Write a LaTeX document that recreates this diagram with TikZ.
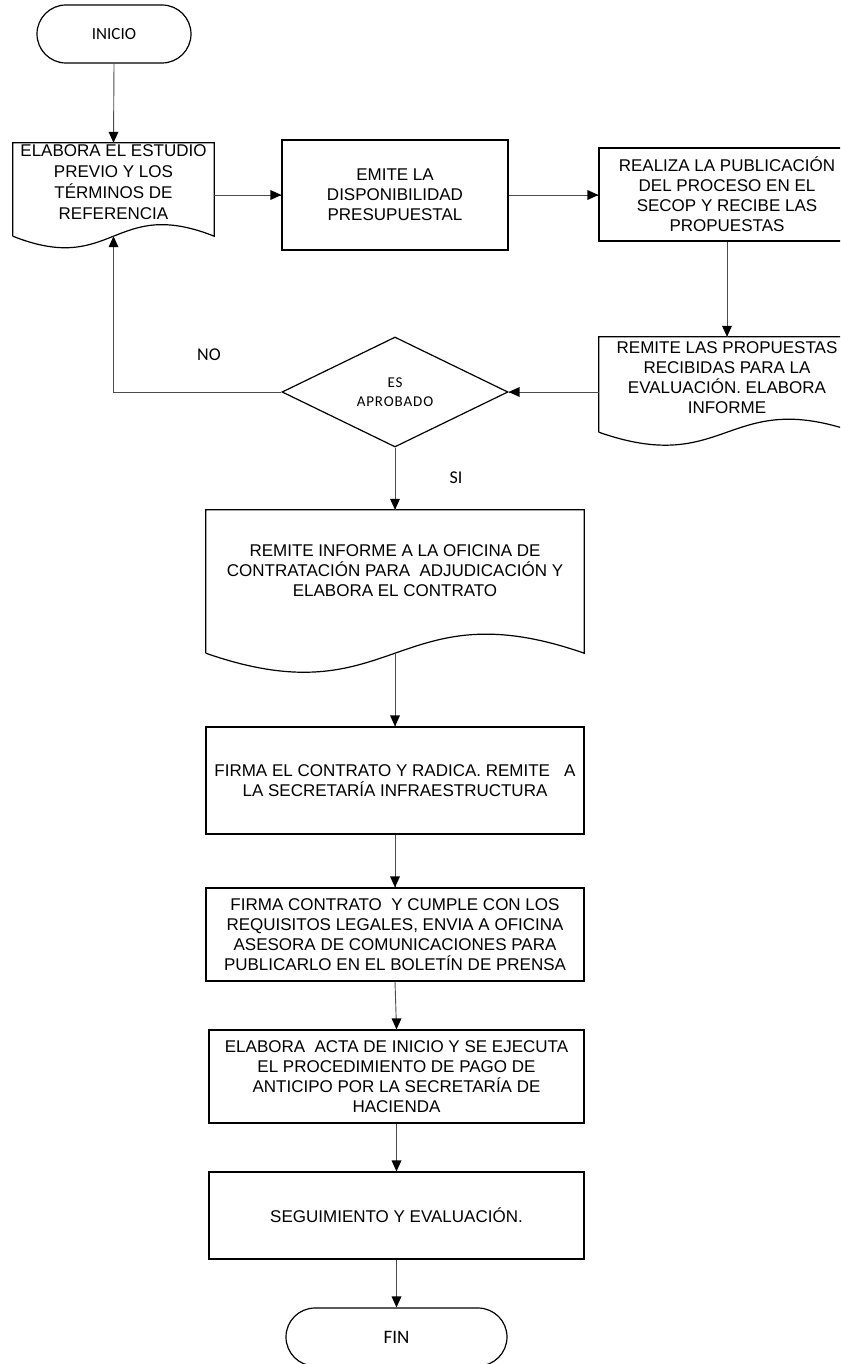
\documentclass[tikz,border=0pt]{standalone}
\usepackage{fontspec}
\setmainfont{Liberation Sans}
\newfontfamily\carlito{Carlito}
\newfontfamily\carlitosp{Carlito}[LetterSpace=6]
\usetikzlibrary{shapes.geometric,arrows.meta,calc}
\tikzset{
  box/.style={draw=black, line width=1.2pt, rectangle, inner sep=2pt, align=center,
    font=\fontsize{17}{20}\selectfont},
  frame/.style={rectangle, inner sep=0pt, draw=none},
  doctext/.style={align=center, inner sep=0pt, font=\fontsize{17}{20}\selectfont},
  term/.style={draw=black, line width=1.2pt, rectangle, rounded corners=29pt,
    minimum height=58pt},
  decision/.style={draw=black, line width=1.2pt, diamond, inner sep=0pt, align=center,
    minimum width=226pt, minimum height=110pt, font=\carlitosp\fontsize{15}{19}\selectfont},
  conn/.style={draw=black!70, line width=0.9pt},
  tip/.style={fill=black, draw=none},
  lbl/.style={font=\carlito\fontsize{18}{20}\selectfont, inner sep=0pt},
  docline/.style={draw=black, line width=1.2pt}
}
\newcommand\docpath[2]{%
  \path[docline] (#1.south west) -- (#1.north west) -- (#1.north east) -- (#1.south east)
    .. controls ($(#1.south)+(0,-#2)$) and ($(#1.south)+(0,#2)$) .. (#1.south west);}
% arrowheads drawn explicitly at the named end point
\newcommand\tipdown[1]{\fill[tip] (#1) -- ++(-5,-11) -- ++(10,0) -- cycle;}
\newcommand\tipright[1]{\fill[tip] (#1) -- ++(-11,-5) -- ++(0,10) -- cycle;}
\newcommand\tipleft[1]{\fill[tip] (#1) -- ++(11,-5) -- ++(0,10) -- cycle;}
\newcommand\tipup[1]{\fill[tip] (#1) -- ++(-5,11) -- ++(10,0) -- cycle;}
\begin{document}
\begin{tikzpicture}[x=1pt,y=-1pt]
\clip (0,0) rectangle (840,1364);
\fill[white] (0,0) rectangle (840,1364);

% terminators
\node[term, minimum width=154pt, font=\carlito\fontsize{17}{20}\selectfont] (ini) at (114,34) {INICIO};
\node[term, minimum width=221pt, font=\carlito\fontsize{19}{20}\selectfont] (fin) at (396.5,1337) {FIN};

% document 1
\node[frame, minimum width=201pt, minimum height=93pt] (d1) at (113.5,189.5) {};
\docpath{d1}{40}
\node[doctext, font=\fontsize{17}{21}\selectfont] (d1t) at (113.5,182) {ELABORA EL ESTUDIO\\PREVIO Y LOS\\TÉRMINOS DE\\REFERENCIA};

% process 2 and 3
\node[box, minimum width=226pt, minimum height=110pt] (b2) at (395,195) {EMITE LA\\DISPONIBILIDAD\\PRESUPUESTAL};
\node[box, minimum width=256pt, minimum height=93pt] (b3) at (727,194.5) {REALIZA LA PUBLICACIÓN\\DEL PROCESO EN EL\\SECOP Y RECIBE LAS\\PROPUESTAS};

% document 4
\node[frame, minimum width=256pt, minimum height=95pt] (d4) at (727,384.5) {};
\docpath{d4}{45}
\node[doctext] (d4t) at (727,378) {REMITE LAS PROPUESTAS\\RECIBIDAS PARA LA\\EVALUACIÓN. ELABORA\\INFORME};

% decision
\node[decision] (dia) at (395,392) {ES\\APROBADO};

% document 5
\node[frame, minimum width=378pt, minimum height=143pt] (d5) at (395,581.5) {};
\docpath{d5}{66}
\node[doctext] (d5t) at (395,571) {REMITE INFORME A LA OFICINA DE\\CONTRATACIÓN PARA\ \ ADJUDICACIÓN Y\\ELABORA EL CONTRATO};

% lower processes
\node[box, minimum width=378pt, minimum height=107pt] (b6) at (395,780.5) {FIRMA EL CONTRATO Y RADICA. REMITE\ \ \ A\\LA SECRETARÍA INFRAESTRUCTURA};
\node[box, minimum width=378pt, minimum height=93pt] (b7) at (395,934.5) {FIRMA CONTRATO\ \ Y CUMPLE CON LOS\\REQUISITOS LEGALES, ENVIA A OFICINA\\ASESORA DE COMUNICACIONES PARA\\PUBLICARLO EN EL BOLETÍN DE PRENSA};
\node[box, minimum width=375pt, minimum height=93pt] (b8) at (396.5,1076.5) {ELABORA\ \ ACTA DE INICIO Y SE EJECUTA\\EL PROCEDIMIENTO DE PAGO DE\\ANTICIPO POR LA SECRETARÍA DE\\HACIENDA};
\node[box, minimum width=375pt, minimum height=87pt] (b9) at (396.5,1215.5) {SEGUIMIENTO Y EVALUACIÓN.};

% labels
\node[lbl] (no) at (209,355) {NO};
\node[lbl] (si) at (456,478) {SI};

% connectors
\draw[conn] (ini.south) -- (d1.north);                 \tipdown{d1.north}
\draw[conn] (b2.west -| d1.east) -- (b2.west);         \tipright{b2.west}
\draw[conn] (b2.east) -- (b2.east -| b3.west);         \tipright{b2.east -| b3.west}
\draw[conn] (b3.south) -- (d4.north);                  \tipdown{d4.north}
\draw[conn] (dia.east -| d4.west) -- (dia.east);       \tipleft{dia.east}
\draw[conn] (dia.west) -| (d1.south);                  \tipup{d1.south}
\draw[conn] (dia.south) -- (d5.north);                 \tipdown{d5.north}
\draw[conn] (d5.south) -- (b6.north);                  \tipdown{b6.north}
\draw[conn] (b6.south) -- (b7.north);                  \tipdown{b7.north}
\draw[conn] (b7.south) -- (b8.north);                  \tipdown{b8.north}
\draw[conn] (b8.south) -- (b9.north);                  \tipdown{b9.north}
\draw[conn] (b9.south) -- (fin.north);                 \tipdown{fin.north}
\end{tikzpicture}
\end{document}
